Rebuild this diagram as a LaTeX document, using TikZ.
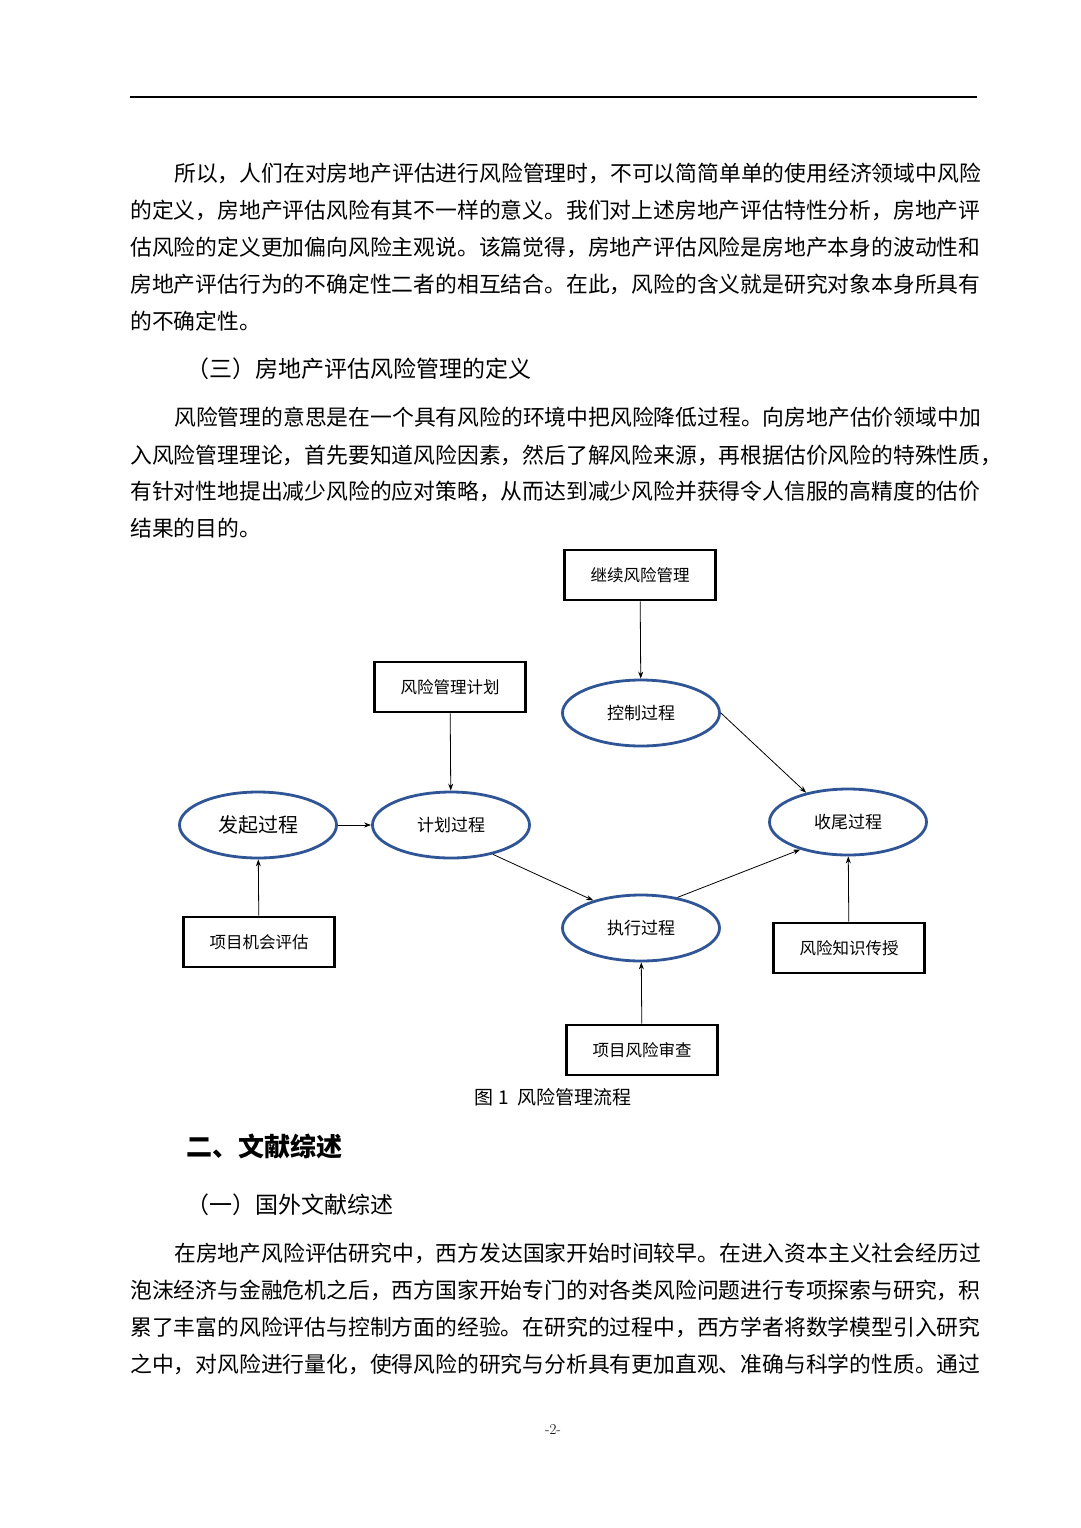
\documentclass[tikz,border=0pt]{standalone}
\usepackage{fontspec}
\usetikzlibrary{shapes.geometric,arrows.meta}
\newfontfamily\cjk{Noto Sans CJK SC}
\definecolor{eblue}{HTML}{2F5597}
\begin{document}
\begin{tikzpicture}[x=1pt,y=-1pt,
  txt/.style={anchor=west,inner sep=0pt,font=\cjk\fontsize{21.8}{24}\selectfont},
  head/.style={anchor=west,inner sep=0pt,font=\cjk\fontsize{23}{26}\selectfont},
  rbox/.style={draw,line width=2.6pt,minimum width=151pt,minimum height=50pt,inner sep=0pt,font=\cjk\fontsize{16.5}{20}\selectfont},
  proc/.style={ellipse,draw=eblue,line width=2.8pt,minimum width=157pt,minimum height=66pt,inner sep=0pt,font=\cjk\fontsize{17}{20}\selectfont},
  arr/.style={-{Stealth[length=7pt,width=5pt]},line width=0.8pt}]
\fill[white] (0,0) rectangle (1080,1528);
\draw[line width=1.2pt] (130,97) -- (977,97);
\node[txt] (p1a) at (174,173) {所以，人们在对房地产评估进行风险管理时，不可以简简单单的使用经济领域中风险};
\node[txt] (p1b) at (130,210) {的定义，房地产评估风险有其不一样的意义。我们对上述房地产评估特性分析，房地产评};
\node[txt] (p1c) at (130,247) {估风险的定义更加偏向风险主观说。该篇觉得，房地产评估风险是房地产本身的波动性和};
\node[txt] (p1d) at (130,284) {房地产评估行为的不确定性二者的相互结合。在此，风险的含义就是研究对象本身所具有};
\node[txt] (p1e) at (130,321) {的不确定性。};
\node[head] (h3) at (186,369) {（三）房地产评估风险管理的定义};
\node[txt] (p2a) at (174,417) {风险管理的意思是在一个具有风险的环境中把风险降低过程。向房地产估价领域中加};
\node[txt] (p2b) at (130,455) {入风险管理理论，首先要知道风险因素，然后了解风险来源，再根据估价风险的特殊性质，};
\node[txt] (p2c) at (130,491) {有针对性地提出减少风险的应对策略，从而达到减少风险并获得令人信服的高精度的估价};
\node[txt] (p2d) at (130,528) {结果的目的。};

\node[rbox] (jx) at (640,575) {继续风险管理};
\node[rbox] (jh) at (450,687) {风险管理计划};
\node[rbox] (xm) at (259,942) {项目机会评估};
\node[rbox] (zs) at (849,948) {风险知识传授};
\node[rbox] (sc) at (642,1050) {项目风险审查};
\node[proc] (kz) at (641,713) {控制过程};
\node[proc,font=\cjk\fontsize{20}{22}\selectfont] (fq) at (258,825) {发起过程};
\node[proc] (jhg) at (451,825) {计划过程};
\node[proc] (sw) at (848,822) {收尾过程};
\node[proc] (zx) at (641,928) {执行过程};
\draw[arr] (jx) -- (kz);
\draw[arr] (jh) -- (jhg);
\draw[arr] (fq) -- (jhg);
\draw[arr] (jhg.-35) -- (zx.150);
\draw[arr] (zx.40) -- (sw.210);
\draw[arr] (kz.east) -- (sw.145);
\draw[arr] (xm) -- (fq);
\draw[arr] (zs) -- (sw);
\draw[arr] (sc) -- (zx);
\node[inner sep=0pt,font=\cjk\fontsize{19}{22}\selectfont] (cap) at (553,1097) {图 1\ \ 风险管理流程};

\node[anchor=west,inner sep=0pt,font=\cjk\bfseries\fontsize{26}{30}\selectfont] (h2) at (186,1146) {二、文献综述};
\node[head] (h1) at (186,1205) {（一）国外文献综述};
\node[txt] (p3a) at (174,1253) {在房地产风险评估研究中，西方发达国家开始时间较早。在进入资本主义社会经历过};
\node[txt] (p3b) at (130,1290) {泡沫经济与金融危机之后，西方国家开始专门的对各类风险问题进行专项探索与研究，积};
\node[txt] (p3c) at (130,1327) {累了丰富的风险评估与控制方面的经验。在研究的过程中，西方学者将数学模型引入研究};
\node[txt] (p3d) at (130,1364) {之中，对风险进行量化，使得风险的研究与分析具有更加直观、准确与科学的性质。通过};
\node[inner sep=0pt,font=\fontsize{15}{18}\selectfont] (pg) at (553,1430) {-2-};
\end{tikzpicture}
\end{document}
